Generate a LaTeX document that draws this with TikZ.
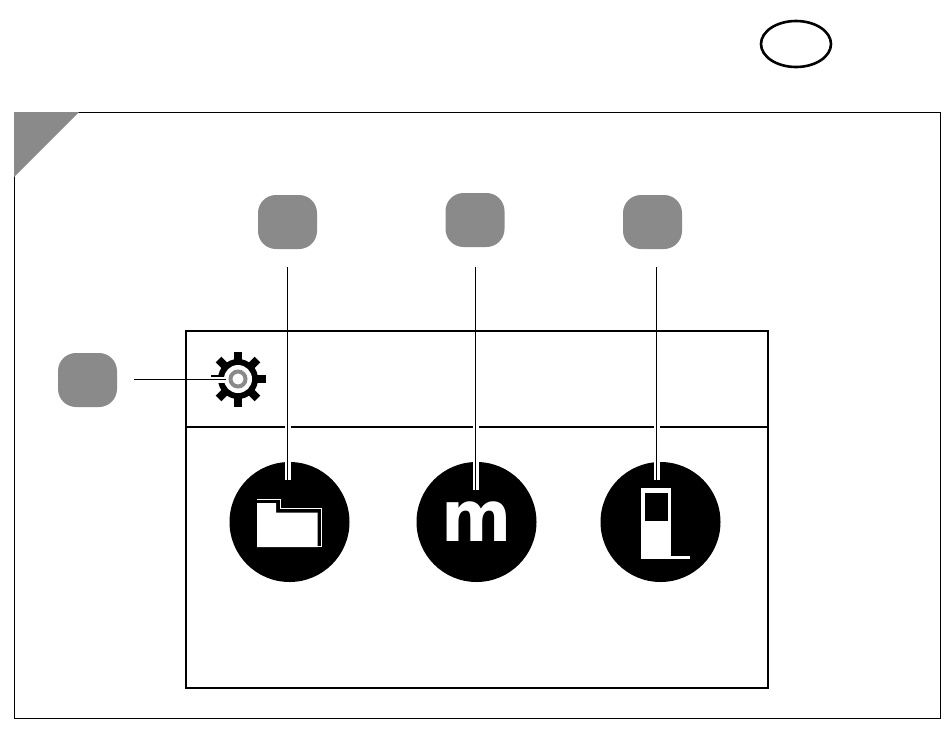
\documentclass[tikz,border=0pt]{standalone}
\usepackage{fontspec}
\newfontfamily\iconfont{DejaVu Sans}
\usetikzlibrary{positioning,shapes.geometric}
\definecolor{badgegray}{HTML}{8A8A8A}
\tikzset{style={font=\iconfont}}
\begin{document}
\begin{tikzpicture}[x=1pt,y=-1pt,black,
    badge/.style={rectangle,fill=badgegray,rounded corners=18pt,inner sep=0pt,minimum width=59pt,minimum height=54pt},
    disc/.style={circle,fill=black,inner sep=0pt,minimum size=120pt},
    halo/.style={white,line width=6pt},
    leader/.style={black,line width=1.2pt},
    whiteline/.style={white,line width=1pt}]
    \useasboundingbox (0,0) rectangle (950,731);
    % frame and corner mark
    \draw[line width=1.1pt] (14.5,112.5) rectangle (940.5,718.5);
    \fill[badgegray] (14,112) -- (79,112) -- (14,177) -- cycle;
    \node[draw,ellipse,line width=2.6pt,minimum width=70pt,minimum height=46pt,inner sep=0pt] (oval) at (796,44) {};
    % screen
    \draw[line width=2.2pt] (186,331) rectangle (768,688);
    \draw[line width=2.2pt] (186,427) -- (768,427);
    % badges
    \node[badge] (badgeLeft) at (87.5,380) {};
    \node[badge] (badgeFolder) at (287.5,222) {};
    \node[badge] (badgeUnit) at (475,220) {};
    \node[badge] (badgeDevice) at (652.5,222) {};
    % icons
    \node[disc] (folder) at (289.5,522) {};
    \node[disc] (unit) at (476.5,522) {};
    \node[disc] (device) at (660.5,522) {};
    \node[text=white,font=\iconfont\bfseries\fontsize{71}{71}\selectfont,inner sep=0pt,anchor=base,xscale=0.95,transform shape] (unitm) at (476.5,541.5) {m};
    \fill[white] (257,503) -- (276,503) -- (276,512.5) -- (317.5,512.5) -- (317.5,547) -- (257,547) -- cycle;
    \draw[whiteline] (257,499) -- (280.5,499) -- (280.5,508.5) -- (321.5,508.5) -- (321.5,546.5) -- (317,546.5);
    \fill[white] (641,488) rectangle (671,559);
    \fill[white] (671,556) rectangle (690,559);
    \fill[black] (645,492.5) rectangle (667.5,521);
    % gear
    \coordinate (gearC) at (238,379);
    \foreach \a in {0,45,...,315}
        \fill[black,rotate around={\a:(gearC)}] (234,351.5) rectangle (242,375);
    \node[circle,fill=black,minimum size=40pt,inner sep=0pt] (gear) at (gearC) {};
    \node[circle,fill=white,minimum size=28pt,inner sep=0pt] (gearhole) at (gearC) {};
    \node[circle,draw=badgegray,fill=white,line width=4pt,minimum size=15pt,inner sep=0pt] (gearring) at (gearC) {};
    % leaders
    \coordinate (leadFolderTop) at (287.5,267);
    \coordinate (leadFolderEnd) at (287.5,480);
    \coordinate (leadUnitTop) at (475.5,267);
    \coordinate (leadUnitEnd) at (475.5,490);
    \coordinate (leadDeviceTop) at (656.5,267);
    \coordinate (leadDeviceEnd) at (656.5,480);
    \coordinate (leadLeftTop) at (134,379.5);
    \coordinate (leadLeftEnd) at (226,379.5);
    \coordinate (haloFolder) at (287.5,340);
    \coordinate (haloUnit) at (475.5,340);
    \coordinate (haloDevice) at (656.5,340);
    \coordinate (haloLeft) at (205,379.5);
    \draw[halo] (haloFolder) -- (leadFolderEnd);
    \draw[halo] (haloUnit) -- (leadUnitEnd);
    \draw[halo] (haloDevice) -- (leadDeviceEnd);
    \draw[halo] (haloLeft) -- (leadLeftEnd);
    \draw[leader] (leadFolderTop) -- (leadFolderEnd);
    \draw[leader] (leadUnitTop) -- (leadUnitEnd);
    \draw[leader] (leadDeviceTop) -- (leadDeviceEnd);
    \draw[leader] (leadLeftTop) -- (leadLeftEnd);
\end{tikzpicture}
\end{document}
